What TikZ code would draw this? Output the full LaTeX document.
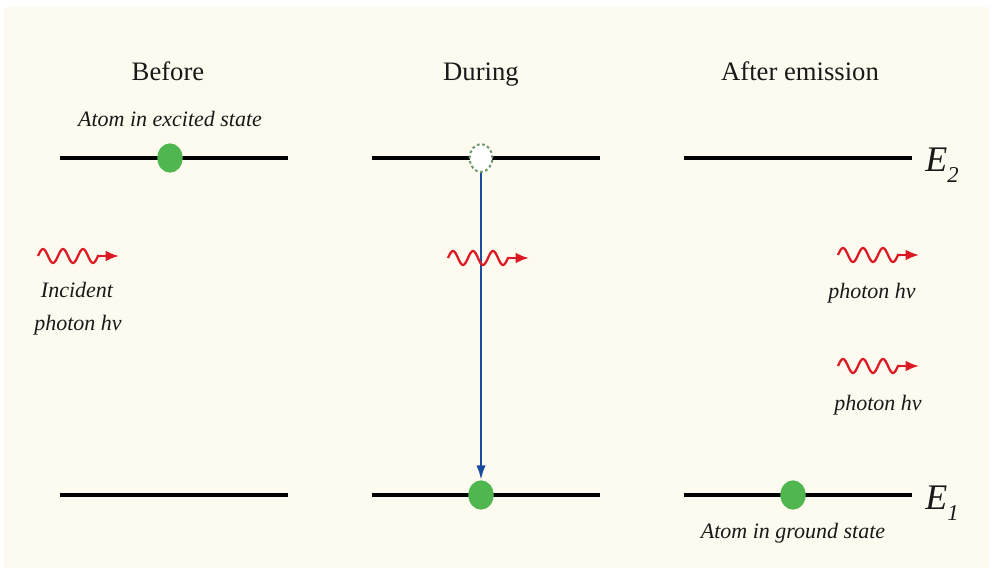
\documentclass[tikz,border=0pt]{standalone}
\usepackage{fontspec}
\setmainfont{Liberation Serif}
\usetikzlibrary{arrows.meta,shapes.geometric}
\definecolor{cream}{RGB}{253,251,240}
\definecolor{dotgreen}{RGB}{80,182,80}
\definecolor{arrowblue}{RGB}{25,75,160}
\definecolor{waver}{RGB}{220,25,35}
\definecolor{txt}{RGB}{25,25,25}
\tikzset{
  level/.style={line width=3.2pt, black},
  title/.style={font=\fontsize{20}{24}\selectfont, text=txt, anchor=base},
  lab/.style={font=\itshape\fontsize{16.5}{19}\selectfont, text=txt, anchor=base},
  elab/.style={font=\itshape\fontsize{27}{30}\selectfont, text=txt, anchor=base},
  atom/.style={ellipse, draw=none, fill=dotgreen, minimum width=19pt, minimum height=22pt, inner sep=0pt},
  ghost/.style={ellipse, draw=dotgreen!45!gray, dash pattern=on 2pt off 2pt, line width=1.5pt, fill=white, minimum width=17pt, minimum height=21pt, inner sep=0pt},
  wave/.style={waver, line width=1.7pt},
  wavetip/.style={-{Latex[length=10pt,width=8pt]}, waver, line width=1.7pt},
}
\newcommand{\photon}[2]{%
  \draw[wave] (#1,#2) sin ++(5,-7) cos ++(5,7) sin ++(5,7) cos ++(5,-7)
    sin ++(5,-7) cos ++(5,7) sin ++(5,7) cos ++(5,-7)
    sin ++(5,-7) cos ++(5,7) sin ++(5,7) cos ++(5,-7) -- ++(3,0);
  \draw[wavetip] (#1+62,#2) -- ++(19,0);
}
\begin{document}
\begin{tikzpicture}[x=0.75pt,y=-0.75pt]
\useasboundingbox (0,0) rectangle (993,573);
\fill[white] (0,0) rectangle (993,573);
\fill[cream] (4,7) rectangle (989,568);

% titles
\node[title] (tb) at (168,81) {Before};
\node[title] (td) at (481,81) {During};
\node[title] (ta) at (800,81) {After emission};

% levels
\coordinate (b2l) at (60,158);  \coordinate (b2r) at (288,158);
\coordinate (d2l) at (372,158); \coordinate (d2r) at (600,158);
\coordinate (a2l) at (684,158); \coordinate (a2r) at (912,158);
\coordinate (b1l) at (60,495);  \coordinate (b1r) at (288,495);
\coordinate (d1l) at (372,495); \coordinate (d1r) at (600,495);
\coordinate (a1l) at (684,495); \coordinate (a1r) at (912,495);
\draw[level] (b2l) -- (b2r);
\draw[level] (d2l) -- (d2r);
\draw[level] (a2l) -- (a2r);
\draw[level] (b1l) -- (b1r);
\draw[level] (d1l) -- (d1r);
\draw[level] (a1l) -- (a1r);

\node[elab] (e2) at (942,172) {E\raisebox{-0.3em}{\fontsize{17}{20}\selectfont 2}};
\node[elab] (e1) at (942,510) {E\raisebox{-0.3em}{\fontsize{17}{20}\selectfont 1}};

% atoms
\node[atom] (atb) at (170,158) {};
\node[ghost] (atd) at (481,158) {};
\node[atom] (atd1) at (481,495) {};
\node[atom] (ata) at (793,495) {};
\draw[arrowblue, line width=1.9pt, -{Latex[length=11pt,width=7pt]}] (atd.south) -- (atd1.north);

% labels
\node[lab] (lex) at (170,127) {Atom in excited state};
\node[lab] (lgr) at (793,538) {Atom in ground state};
\node[lab] (linc) at (77,298) {Incident};
\node[lab] (lph) at (78,331) {photon hν};
\node[lab] (lph2) at (872,299) {photon hν};
\node[lab] (lph3) at (878,411) {photon hν};

% photons
\photon{38}{256}
\photon{448}{258}
\photon{838}{255}
\photon{838}{366}
\end{tikzpicture}
\end{document}
